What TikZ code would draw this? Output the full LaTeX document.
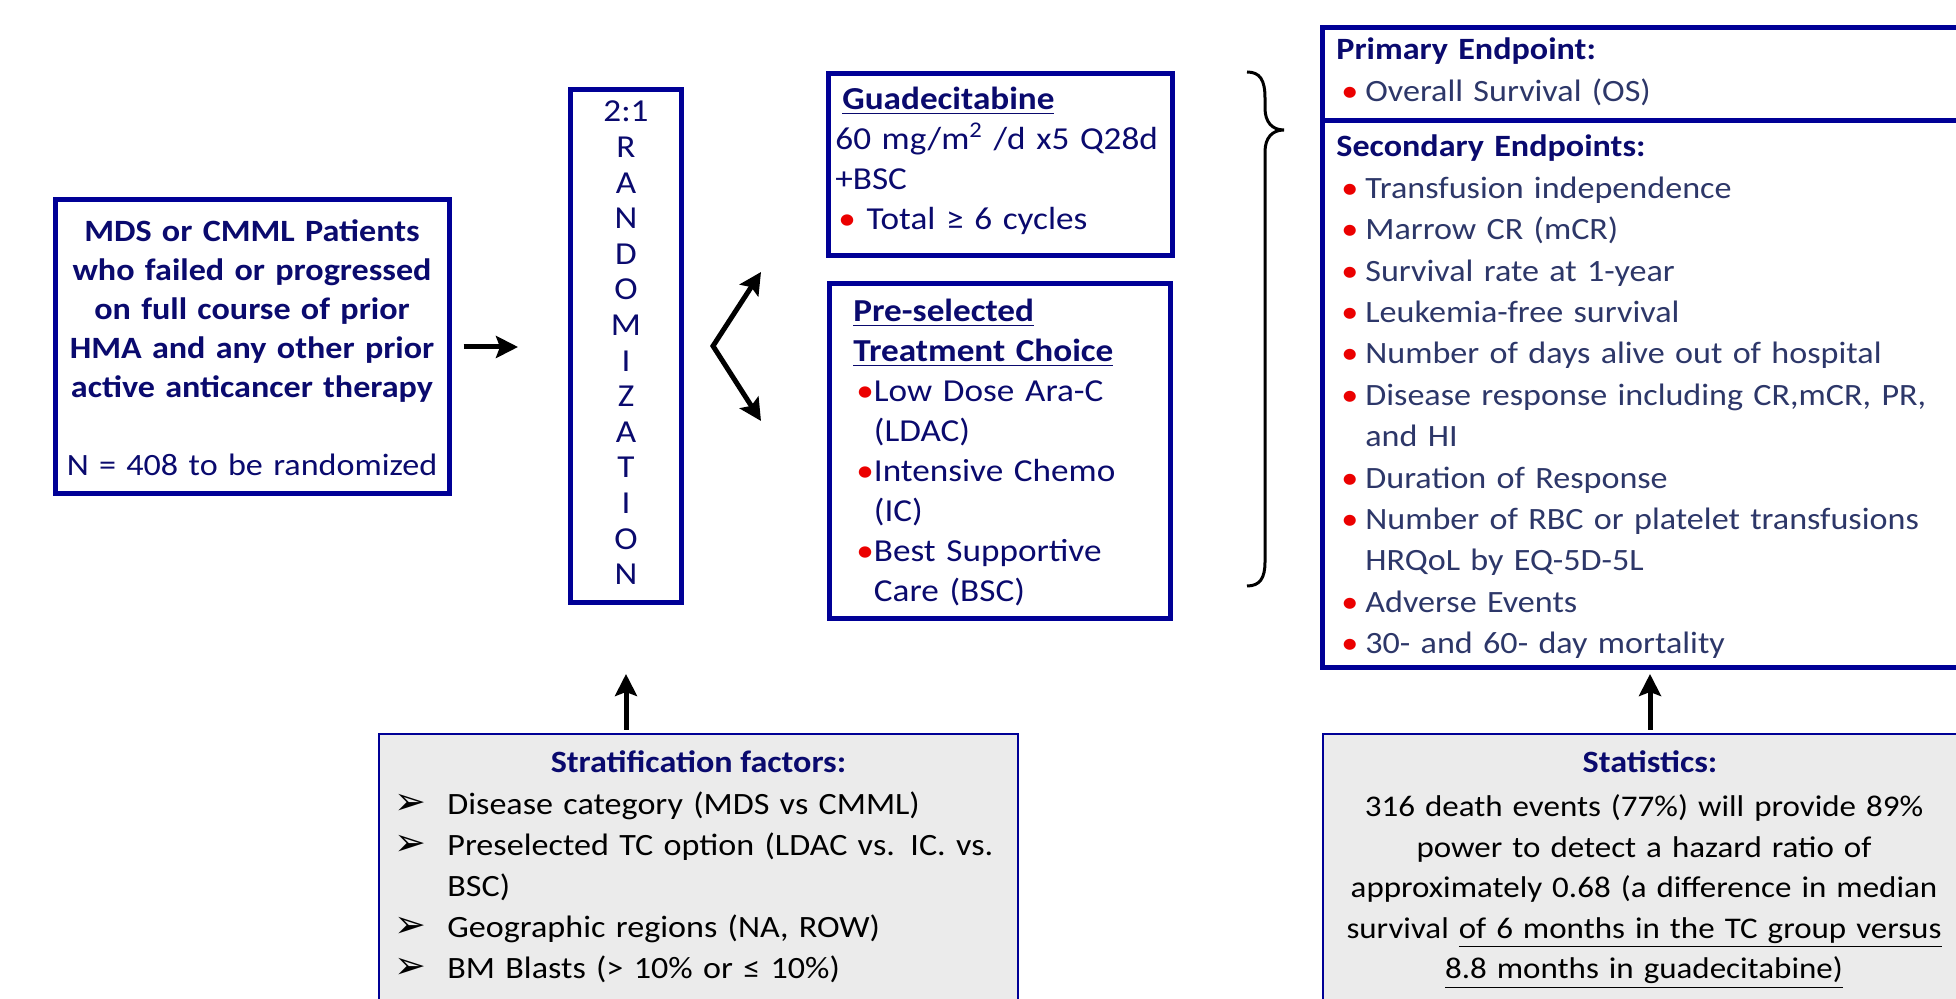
\documentclass[tikz,border=0pt]{standalone}
\usepackage{fontspec}
\setmainfont{Carlito}[FakeStretch=1.1]
\newfontfamily\dingfont{DejaVu Sans}
\usetikzlibrary{arrows.meta}
\definecolor{boxblue}{RGB}{0,0,150}
\definecolor{navytext}{RGB}{10,10,110}
\definecolor{slatetext}{RGB}{45,55,105}
\definecolor{bulred}{RGB}{235,0,0}
\definecolor{boxgray}{RGB}{235,235,235}
\newcommand{\rbul}{\textcolor{bulred}{•}}
\newcommand{\epbul}{\hspace*{2.5pt}\rbul\hspace{3.5pt}}
\newcommand{\epcont}{\hspace*{2.5pt}\phantom{\rbul}\hspace{3.5pt}}
\newcommand{\abul}{\makebox[26.5pt][l]{\dingfont\fontsize{19pt}{19pt}\selectfont ➢}}
\begin{document}
\begin{tikzpicture}[x=0.5pt,y=-0.5pt]
        \clip (0,0) rectangle (1956,999);
        % boxes
        \begin{scope}[every node/.style={rectangle,draw=boxblue,line width=2.5pt,fill=white,inner sep=0pt}]
          \node[minimum width=197pt,minimum height=147pt]   (patients) at (252,347) {};
          \node[minimum width=55.5pt,minimum height=256.5pt] (rand)    at (626,346) {};
          \node[minimum width=172pt,minimum height=91pt]    (guad)     at (1000.5,164.5) {};
          \node[minimum width=170.5pt,minimum height=167.5pt] (tc)     at (1000,451) {};
          \node[minimum width=327.5pt,minimum height=320pt] (endp)     at (1650,347.5) {};
          \node[line width=1pt,fill=boxgray,minimum width=319.5pt,minimum height=153pt] (strat) at (698.5,887) {};
          \node[line width=1pt,fill=boxgray,minimum width=327pt,minimum height=153pt]   (stats) at (1650,887) {};
        \end{scope}
        \coordinate (sep) at (1650,121);
        \draw[boxblue,line width=2.5pt] (endp.west |- sep) -- (endp.east |- sep);
        % texts
        \begin{scope}[every node/.style={inner sep=0pt}]
          \node[anchor=base,text width=200pt,align=center,text=navytext,font=\bfseries\fontsize{15.5pt}{19.5pt}\selectfont] (patT) at (252,242)
            {MDS or CMML Patients\\who failed or progressed\\on full course of prior\\HMA and any other prior\\active anticancer therapy\\[19.5pt]{\mdseries N = 408 to be randomized}};
          \node[anchor=base,text width=50pt,align=center,text=navytext,font=\fontsize{16pt}{17.8pt}\selectfont] (randT) at (626,122)
            {2:1\\R\\A\\N\\D\\O\\M\\I\\Z\\A\\T\\I\\O\\N};
          \node[anchor=base west,text width=165pt,align=left,text=navytext,font=\fontsize{16pt}{20pt}\selectfont] (guadT) at (835,110)
            {\hspace*{3.5pt}\textbf{\underline{Guadecitabine}}\\60 mg/m\textsuperscript{2} /d x5 Q28d\\+BSC\\\hspace*{1.5pt}\rbul{} Total ≥ 6 cycles};
          \node[anchor=base west,text width=160pt,align=left,text=navytext,font=\fontsize{16pt}{20pt}\selectfont] (tcT) at (853,322)
            {\textbf{\underline{Pre-selected}}\\\textbf{\underline{Treatment Choice}}\\
             \hspace*{1.5pt}\rbul Low Dose Ara-C\\\hspace*{1.5pt}\phantom{\rbul}(LDAC)\\
             \hspace*{1.5pt}\rbul Intensive Chemo\\\hspace*{1.5pt}\phantom{\rbul}(IC)\\
             \hspace*{1.5pt}\rbul Best Supportive\\\hspace*{1.5pt}\phantom{\rbul}Care (BSC)};
          \node[anchor=base west,text width=310pt,align=left,text=slatetext,font=\fontsize{15.5pt}{21pt}\selectfont] (primT) at (1336,60)
            {\textcolor{navytext}{\textbf{Primary Endpoint:}}\\\epbul Overall Survival (OS)};
          \node[anchor=base west,text width=310pt,align=left,text=slatetext,font=\fontsize{15.5pt}{20.7pt}\selectfont] (secT) at (1336,157)
            {\textcolor{navytext}{\textbf{Secondary Endpoints:}}\\
             \epbul Transfusion independence\\
             \epbul Marrow CR (mCR)\\
             \epbul Survival rate at 1-year\\
             \epbul Leukemia-free survival\\
             \epbul Number of days alive out of hospital\\
             \epbul Disease response including CR,mCR, PR,\\
             \epcont and HI\\
             \epbul Duration of Response\\
             \epbul Number of RBC or platelet transfusions\\
             \epcont HRQoL by EQ-5D-5L\\
             \epbul Adverse Events\\
             \epbul 30- and 60- day mortality};
          \node[anchor=base,text=navytext,font=\bfseries\fontsize{15.5pt}{20pt}\selectfont] (stratT) at (698.5,773) {Stratification factors:};
          \node[anchor=base west,text width=305pt,align=left,font=\fontsize{15.5pt}{20.5pt}\selectfont] (stratL) at (394,815)
            {\abul Disease category (MDS vs CMML)\\
             \abul Preselected TC option (LDAC vs. IC. vs.\\
             \hspace*{26.5pt}BSC)\\
             \abul Geographic regions (NA, ROW)\\
             \abul BM Blasts (> 10\% or ≤ 10\%)};
          \node[anchor=base,text=navytext,font=\bfseries\fontsize{15.5pt}{20pt}\selectfont] (statsT) at (1650,773) {Statistics:};
          \node[anchor=base,text width=322pt,align=center,font=\fontsize{15pt}{20.25pt}\selectfont] (statsL) at (1644,817)
            {316 death events (77\%) will provide 89\%\\
             power to detect a hazard ratio of\\
             approximately 0.68 (a difference in median\\
             survival \underline{of 6 months in the TC group versus}\\
             \underline{8.8 months in guadecitabine)}};
        \end{scope}
        % connectors
        \coordinate (fork) at (713,346);
        \coordinate (upT)  at (761,272);
        \coordinate (lowT) at (761,421);
        \draw[line width=2.5pt,line join=miter,{Stealth[length=11pt,width=11pt,inset=2pt]}-{Stealth[length=11pt,width=11pt,inset=2pt]}] (upT) -- (fork) -- (lowT);
        \begin{scope}[every edge/.style={draw=black,line width=2.5pt,-{Stealth[length=11pt,width=11pt,inset=2pt]}}]
          \path (patients.east) edge[shorten <=6pt,shorten >=25pt] (patients.east -| rand.west);
          \path (strat.north -| rand.south) edge[shorten <=1.5pt,shorten >=34.5pt] (rand.south);
          \path (stats.north) edge[shorten <=1.5pt,shorten >=2pt] (endp.south);
        \end{scope}
        % brace
        \draw[line width=1.5pt] (1247,72) .. controls (1260,72) and (1265,80) .. (1265,98) -- (1265,108)
          .. controls (1265,122) and (1272,130) .. (1284,130)
          .. controls (1272,130) and (1265,138) .. (1265,152) -- (1265,562)
          .. controls (1265,578) and (1260,586) .. (1247,586);
      \end{tikzpicture}
\end{document}
